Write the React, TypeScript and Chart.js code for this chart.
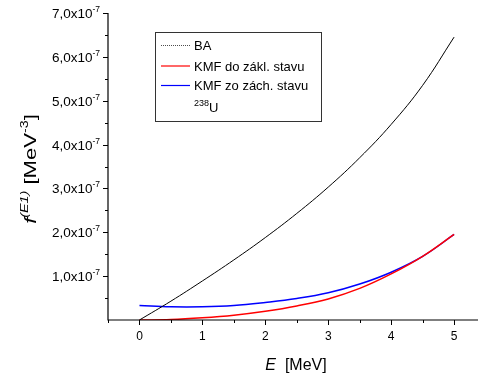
import React, { useEffect, useRef } from "react";
import { Chart, registerables } from "chart.js";

Chart.register(...registerables);

const energies = [0, 0.5, 1, 1.5, 2, 2.5, 3, 3.5, 4, 4.5, 5];
const baValues = [0, 0.43, 0.89, 1.37, 1.88, 2.43, 3.03, 3.7, 4.46, 5.35, 6.45];
const kmfGroundValues = [0, 0.01, 0.05, 0.11, 0.2, 0.32, 0.48, 0.72, 1.05, 1.45, 1.95];
const kmfExcitedValues = [0.33, 0.3, 0.3, 0.33, 0.4, 0.49, 0.62, 0.82, 1.09, 1.45, 1.95];
const SCALE = 1e-7;

const xTickValues = [0, 1, 2, 3, 4, 5];
const xTickLabels = ["0", "1", "2", "3", "4", "5"];
const xMinorTicks = [-0.5, 0.5, 1.5, 2.5, 3.5, 4.5];
const yTickValues = [1, 2, 3, 4, 5, 6, 7];
const yTickLabels = ["1,0x10", "2,0x10", "3,0x10", "4,0x10", "5,0x10", "6,0x10", "7,0x10"];
const yTickExponent = "-7";
const yMinorTicks = [0.5, 1.5, 2.5, 3.5, 4.5, 5.5, 6.5];
const legendLabels = ["BA", "KMF do zákl. stavu", "KMF zo zách. stavu"];
const legendNote = { sup: "238", base: "U" };

const FONT = "'Liberation Sans', Arial, sans-serif";

type Seg = { t: string; size: number; italic?: boolean; dy?: number };

function segWidth(ctx: CanvasRenderingContext2D, segs: Seg[]) {
  let w = 0;
  for (const s of segs) {
    ctx.font = `${s.italic ? "italic " : ""}${s.size}px ${FONT}`;
    w += ctx.measureText(s.t).width;
  }
  return w;
}

function drawSegs(ctx: CanvasRenderingContext2D, segs: Seg[], x: number, y: number) {
  let cx = x;
  for (const s of segs) {
    ctx.font = `${s.italic ? "italic " : ""}${s.size}px ${FONT}`;
    ctx.fillText(s.t, cx, y + (s.dy || 0));
    cx += ctx.measureText(s.t).width;
  }
}

const decorPlugin = {
  id: "decor",
  afterDraw(chart: any) {
    const ctx: CanvasRenderingContext2D = chart.ctx;
    const xs = chart.scales.x;
    const ys = chart.scales.y;
    const area = chart.chartArea;
    ctx.save();
    ctx.strokeStyle = "#000";
    ctx.fillStyle = "#000";
    ctx.lineWidth = 1.2;
    // axes
    ctx.beginPath();
    ctx.moveTo(area.left, area.top);
    ctx.lineTo(area.left, area.bottom);
    ctx.lineTo(area.right, area.bottom);
    ctx.stroke();
    ctx.lineWidth = 1;
    // x ticks
    ctx.beginPath();
    for (const v of xTickValues) {
      const px = Math.round(xs.getPixelForValue(v)) + 0.5;
      ctx.moveTo(px, area.bottom);
      ctx.lineTo(px, area.bottom + 5);
    }
    for (const v of xMinorTicks) {
      const px = Math.round(xs.getPixelForValue(v)) + 0.5;
      ctx.moveTo(px, area.bottom);
      ctx.lineTo(px, area.bottom + 3);
    }
    // y ticks
    for (const v of yTickValues) {
      const py = Math.round(ys.getPixelForValue(v * SCALE)) + 0.5;
      ctx.moveTo(area.left, py);
      ctx.lineTo(area.left - 5, py);
    }
    for (const v of yMinorTicks) {
      const py = Math.round(ys.getPixelForValue(v * SCALE)) + 0.5;
      ctx.moveTo(area.left, py);
      ctx.lineTo(area.left - 3, py);
    }
    ctx.stroke();
    // x tick labels
    ctx.font = `12px ${FONT}`;
    ctx.textAlign = "center";
    ctx.textBaseline = "alphabetic";
    xTickValues.forEach((v, i) => {
      ctx.fillText(xTickLabels[i], xs.getPixelForValue(v), area.bottom + 20);
    });
    // y tick labels
    ctx.textAlign = "left";
    yTickValues.forEach((v, i) => {
      const py = ys.getPixelForValue(v * SCALE);
      const segs: Seg[] = [
        { t: yTickLabels[i], size: 13.5 },
        { t: yTickExponent, size: 8.5, dy: -6 },
      ];
      const w = segWidth(ctx, segs);
      drawSegs(ctx, segs, area.left - 8 - w, py + 5);
    });
    // x title
    const xt: Seg[] = [
      { t: "E", size: 16, italic: true },
      { t: "  [MeV]", size: 16 },
    ];
    const xw = segWidth(ctx, xt);
    drawSegs(ctx, xt, 296 - xw / 2, 370);
    // y title
    ctx.save();
    ctx.translate(36, 169);
    ctx.rotate(-Math.PI / 2);
    const stretch = 1.3;
    ctx.scale(stretch, 1);
    const yt: Seg[] = [
      { t: "f", size: 17, italic: true },
      { t: "(E1)", size: 11, italic: true, dy: -8 },
      { t: " [MeV", size: 17 },
      { t: "-3", size: 11, dy: -8 },
      { t: "]", size: 17 },
    ];
    const yw = segWidth(ctx, yt);
    drawSegs(ctx, yt, -yw / 2, 0);
    ctx.restore();
    // legend
    const lx = 155.5, ly = 32.5, lw = 166, lh = 89;
    ctx.strokeStyle = "#333";
    ctx.lineWidth = 1;
    ctx.strokeRect(lx, ly, lw, lh);
    const rows = [45, 65.5, 85];
    const colors = ["#000", "#ff0000", "#0000ff"];
    rows.forEach((ry, i) => {
      ctx.beginPath();
      ctx.strokeStyle = colors[i];
      ctx.lineWidth = i === 0 ? 0.7 : 1.2;
      ctx.setLineDash(i === 0 ? [1, 1] : []);
      ctx.moveTo(161, ry + 0.5);
      ctx.lineTo(190, ry + 0.5);
      ctx.stroke();
      ctx.setLineDash([]);
      ctx.fillStyle = "#000";
      ctx.font = `13px ${FONT}`;
      ctx.fillText(legendLabels[i], 194, ry + 5);
    });
    drawSegs(ctx, [
      { t: legendNote.sup, size: 9, dy: -6 },
      { t: legendNote.base, size: 13 },
    ], 194, 112);
    ctx.restore();
  },
};

export default function App() {
  const ref = useRef<HTMLCanvasElement>(null);
  useEffect(() => {
    if (!ref.current) return;
    const toPts = (vals: number[]) => energies.map((e, i) => ({ x: e, y: vals[i] * SCALE }));
    const common = { pointRadius: 0, tension: 0.4, fill: false };
    const chart = new Chart(ref.current, {
      type: "line",
      data: {
        datasets: [
          { label: legendLabels[0], data: toPts(baValues), borderColor: "#000", borderWidth: 1, ...common },
          { label: legendLabels[1], data: toPts(kmfGroundValues), borderColor: "#ff0000", borderWidth: 1.5, ...common },
          { label: legendLabels[2], data: toPts(kmfExcitedValues), borderColor: "#0000ff", borderWidth: 1.5, ...common },
        ],
      },
      options: {
        responsive: false,
        animation: false,
        layout: { padding: { top: 13, right: 0, left: 0, bottom: 0 } },
        plugins: { legend: { display: false }, tooltip: { enabled: false } },
        scales: {
          x: {
            type: "linear",
            min: -0.5,
            max: 5.38,
            ticks: { display: false },
            grid: { display: false },
            border: { display: false },
            afterFit: (s: any) => { s.height = 58; },
          },
          y: {
            type: "linear",
            min: 0,
            max: 7e-7,
            ticks: { display: false },
            grid: { display: false },
            border: { display: false },
            afterFit: (s: any) => { s.width = 108; },
          },
        },
      },
      plugins: [decorPlugin],
    } as any);
    return () => chart.destroy();
  }, []);
  return (
    <div style={{ position: "absolute", left: 0, top: 0, width: 478, height: 378, background: "#fff" }}>
      <canvas ref={ref} width={478} height={378} style={{ width: 478, height: 378, display: "block" }} />
    </div>
  );
}
